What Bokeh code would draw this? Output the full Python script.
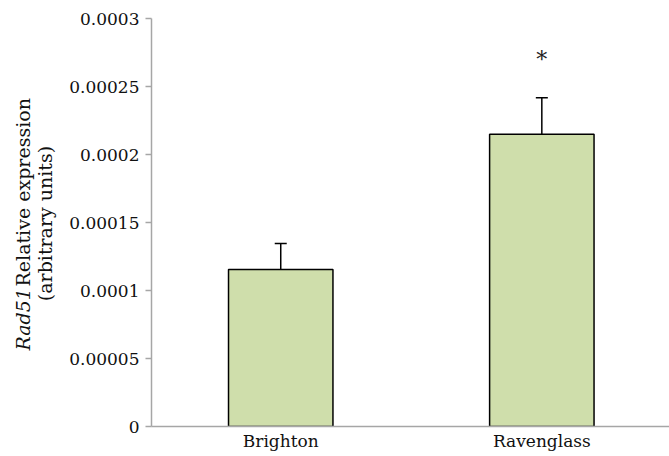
import math
from bokeh.plotting import figure
from bokeh.models import (ColumnDataSource, FixedTicker, Range1d, Whisker, TeeHead, Label)
from bokeh.core.properties import value
from bokeh.embed import file_html
from bokeh.resources import INLINE

# ---- data ----
categories = ["Brighton", "Ravenglass"]
means = [0.0001155, 0.0002148]
errors = [0.0000190, 0.0000270]
significance = ["", "*"]
y_ticks = [0, 0.00005, 0.0001, 0.00015, 0.0002, 0.00025, 0.0003]
y_tick_labels = ["0", "0.00005", "0.0001", "0.00015", "0.0002", "0.00025", "0.0003"]

FONT = "DejaVu Serif"
AXIS_GREY = "#a6a6a6"
TITLE_SIZE = "19px"

xs = list(range(len(categories)))
src = ColumnDataSource(dict(
    x=xs, top=means,
    upper=[m + e for m, e in zip(means, errors)],
    star_y=[m + e + 0.000028 for m, e in zip(means, errors)],
    star=significance,
))

p = figure(width=669, height=456, output_backend="svg", toolbar_location=None,
           x_range=Range1d(-0.495, 1.489), y_range=Range1d(0, 0.0003),
           min_border_left=150, min_border_right=0, min_border_top=18, min_border_bottom=30)
p.outline_line_color = None
p.xgrid.grid_line_color = None
p.ygrid.grid_line_color = None
p.background_fill_color = "white"

p.vbar(x="x", top="top", width=0.40, source=src, fill_color="#cfdeab",
       line_color="black", line_width=1.5)

p.add_layout(Whisker(source=src, base="x", lower="top", upper="upper", dimension="height",
                     line_color="black", line_width=1.5, lower_head=None,
                     upper_head=TeeHead(size=12, line_color="black", line_width=1.5)))

p.text(x="x", y="star_y", text="star", source=src, text_align="center",
       text_baseline="middle", text_font=value(FONT), text_font_size="22px",
       text_color="#222222")

# y axis
ya = p.yaxis[0]
ya.ticker = FixedTicker(ticks=y_ticks)
ya.major_label_overrides = {t: l for t, l in zip(y_ticks, y_tick_labels)}
ya.axis_line_color = AXIS_GREY
ya.axis_line_width = 1.5
ya.major_tick_line_color = AXIS_GREY
ya.major_tick_line_width = 1.5
ya.major_tick_in = 0
ya.major_tick_out = 6
ya.minor_tick_line_color = None
ya.major_label_text_font = FONT
ya.major_label_text_font_size = "17px"
ya.major_label_text_color = "#111111"
ya.major_label_standoff = 6

# x axis
xa = p.xaxis[0]
xa.ticker = FixedTicker(ticks=xs)
xa.major_label_overrides = {i: c for i, c in zip(xs, categories)}
xa.axis_line_color = AXIS_GREY
xa.axis_line_width = 1.5
xa.major_tick_line_color = None
xa.major_tick_in = 0
xa.major_tick_out = 0
xa.minor_tick_line_color = None
xa.minor_tick_in = 0
xa.minor_tick_out = 0
xa.major_label_text_font = FONT
xa.major_label_text_font_size = "17px"
xa.major_label_text_color = "#111111"
xa.major_label_standoff = 4

# y axis title: two rotated lines ("Rad51" italic), each in its own left side panel
def title_label(txt, x, y, style="normal", align="left"):
    return Label(x=x, y=y, x_units="screen", y_units="screen", text=txt,
                 angle=math.pi / 2, text_font=FONT, text_font_style=style,
                 text_font_size=TITLE_SIZE, text_align=align, text_baseline="middle",
                 text_color="#111111")

p.add_layout(title_label("(arbitrary units)", 0, 203, align="center"), "left")
p.add_layout(title_label("Relative expression", 0.5, 140), "left")
p.add_layout(title_label("Rad51", 22.5, 76, style="italic"), "left")

open("out.html", "w").write(file_html(p, INLINE))
